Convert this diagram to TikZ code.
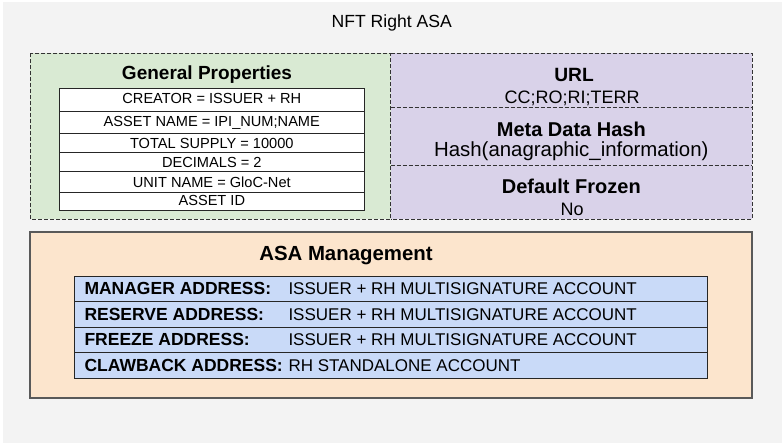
\documentclass[tikz,border=0pt]{standalone}
\usepackage{fontspec}
\setmainfont{Liberation Sans}
\usetikzlibrary{fit}
\definecolor{bgc}{HTML}{F3F3F3}
\definecolor{greenc}{HTML}{D9EAD3}
\definecolor{purplec}{HTML}{D9D2E9}
\definecolor{orangec}{HTML}{FCE5CD}
\definecolor{bluec}{HTML}{C9DAF8}
\definecolor{linec}{HTML}{333333}
\definecolor{orangeline}{HTML}{595959}
\begin{document}
\begin{tikzpicture}[x=1pt,y=-1pt,
  fillbox/.style={draw=none, inner sep=0pt, outer sep=0pt},
  dashline/.style={draw=linec, line width=0.9pt, dash pattern=on 4pt off 2pt},
  tablerow/.style={draw=black!85, line width=1pt, fill=white, inner sep=0pt, outer sep=0pt},
  bluerow/.style={draw=black!85, line width=1pt, fill=bluec, inner sep=0pt, outer sep=0pt},
  headtxt/.style={anchor=base, inner sep=0pt, font=\fontsize{20}{23}\selectfont\bfseries},
  subtxt/.style={anchor=base, inner sep=0pt, font=\fontsize{18}{22}\selectfont},
  celltxt/.style={anchor=base, inner sep=0pt, font=\fontsize{14.6}{17}\selectfont},
  labtxt/.style={anchor=base west, inner sep=0pt, font=\fontsize{17.5}{21}\selectfont\bfseries},
  valtxt/.style={anchor=base west, inner sep=0pt, font=\fontsize{17}{21}\selectfont},
]
\useasboundingbox (0,0) rectangle (783,443);
\fill[bgc] (3,2) rectangle (782,443);

\node[anchor=base, inner sep=0pt, font=\fontsize{17.6}{21}\selectfont] (title) at (391.7,28) {NFT Right ASA};

% General properties
\node[fillbox, fill=greenc, fit={(30,53.3) (390.7,219.3)}] (gp) {};
% Purple column
\node[fillbox, fill=purplec, fit={(390.7,53.3) (752,107.7)}] (url) {};
\node[fillbox, fill=purplec, fit={(390.7,107.7) (752,165.3)}] (mdh) {};
\node[fillbox, fill=purplec, fit={(390.7,165.3) (752,219.3)}] (dfz) {};
% dashed outlines
\draw[dashline] (gp.north west) rectangle (gp.south east);
\draw[dashline] (url.north west) -- (url.north east) -- (dfz.south east) -- (dfz.south west);
\draw[dashline] (url.south west) -- (url.south east);
\draw[dashline] (mdh.south west) -- (mdh.south east);

\node[headtxt, font=\fontsize{19}{23}\selectfont\bfseries] (gptitle) at (207,80) {General Properties};
\node[tablerow, fit={(59,89) (364.7,112)}] (r1) {};
\node[tablerow, fit={(59,112) (364.7,134)}] (r2) {};
\node[tablerow, fit={(59,134) (364.7,153)}] (r3) {};
\node[tablerow, fit={(59,153) (364.7,172)}] (r4) {};
\node[tablerow, fit={(59,172) (364.7,193)}] (r5) {};
\node[tablerow, fit={(59,193) (364.7,211)}] (r6) {};
\node[celltxt] (t1) at (211.8,104) {CREATOR = ISSUER + RH};
\node[celltxt] (t2) at (211.8,126.7) {ASSET NAME = IPI\_NUM;NAME};
\node[celltxt] (t3) at (211.8,148.3) {TOTAL SUPPLY = 10000};
\node[celltxt] (t4) at (211.8,167.7) {DECIMALS = 2};
\node[celltxt] (t5) at (211.8,187.7) {UNIT NAME = GloC-Net};
\node[celltxt] (t6) at (211.8,205.7) {ASSET ID};

\node[headtxt, font=\fontsize{19.2}{23}\selectfont\bfseries] (urlt) at (574,82) {URL};
\node[subtxt] (urlv) at (572,104) {CC;RO;RI;TERR};
\node[headtxt] (mdht) at (571.3,136.7) {Meta Data Hash};
\node[anchor=base, inner sep=0pt, font=\fontsize{20.4}{24}\selectfont] (mdhv) at (571.3,157) {Hash(anagraphic\_information)};
\node[headtxt] (dfzt) at (571.3,194) {Default Frozen};
\node[subtxt] (dfzv) at (572,216) {No};

% ASA management
\node[draw=orangeline, line width=1.3pt, fill=orangec, inner sep=0pt, fit={(30,232) (752,398)}] (asa) {};
\node[headtxt, font=\fontsize{20.4}{24}\selectfont\bfseries] (asat) at (346,261) {ASA Management};
\node[bluerow, fit={(74.3,276) (707,301.7)}] (b1) {};
\node[bluerow, fit={(74.3,301.7) (707,327.3)}] (b2) {};
\node[bluerow, fit={(74.3,327.3) (707,352.7)}] (b3) {};
\node[bluerow, fit={(74.3,352.7) (707,378.3)}] (b4) {};
\node[labtxt] (l1) at (84.3,294) {MANAGER ADDRESS:};
\node[labtxt] (l2) at (84.3,320) {RESERVE ADDRESS:};
\node[labtxt] (l3) at (84.3,345.5) {FREEZE ADDRESS:};
\node[labtxt] (l4) at (84.3,371) {CLAWBACK ADDRESS:};
\node[valtxt] (v1) at (288.3,294) {ISSUER + RH MULTISIGNATURE ACCOUNT};
\node[valtxt] (v2) at (288.3,320) {ISSUER + RH MULTISIGNATURE ACCOUNT};
\node[valtxt] (v3) at (288.3,345.5) {ISSUER + RH MULTISIGNATURE ACCOUNT};
\node[valtxt] (v4) at (288.3,371) {RH STANDALONE ACCOUNT};
\end{tikzpicture}
\end{document}
